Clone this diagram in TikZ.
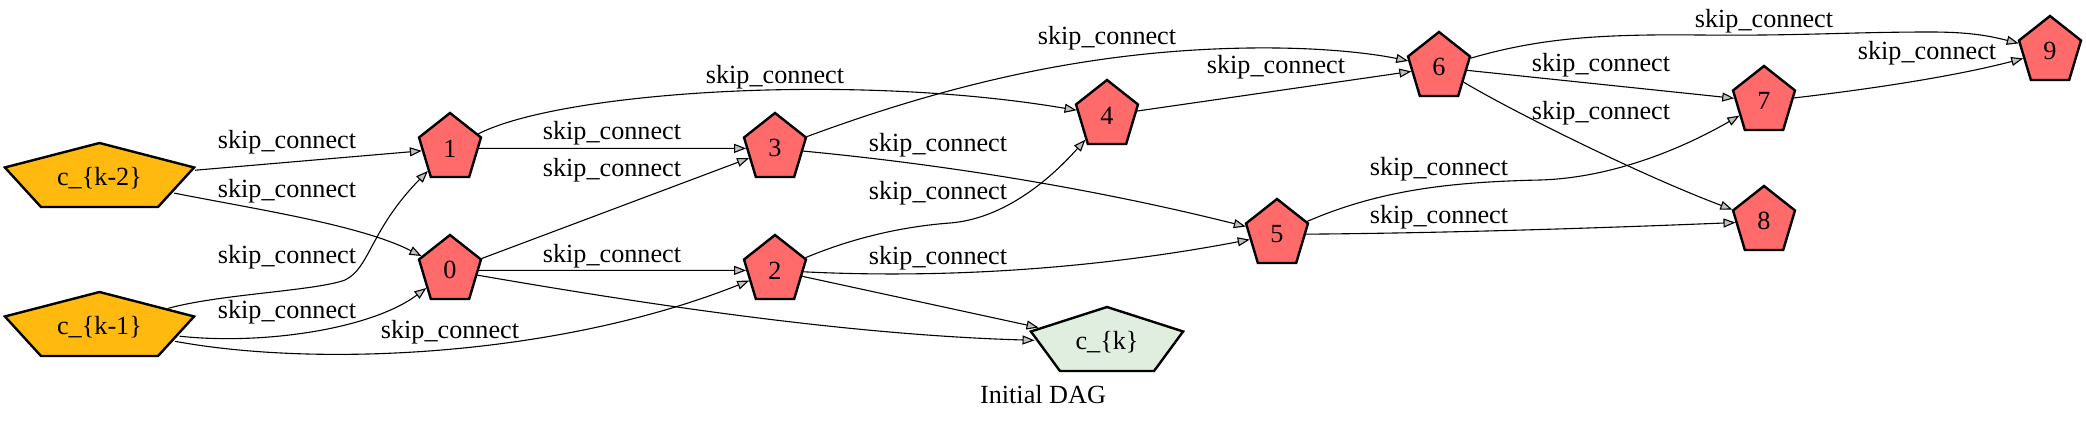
\documentclass[tikz,border=0pt]{standalone}
\usepackage{fontspec}
\setmainfont{Liberation Serif}
\usepackage{graphicx}
\usetikzlibrary{shapes.geometric,arrows.meta}
\definecolor{nred}{HTML}{FF6A6A}
\definecolor{ngold}{HTML}{FFB90F}
\definecolor{ngreen}{HTML}{E0EEE0}
\definecolor{agray}{HTML}{C0C0C0}
% name, x, y, xscale, inverse xscale, fill, text
\newcommand\pentnode[7]{%
  \begin{scope}[shift={(#2,#3)}]
    \node[pent,xscale=#4,fill=#6] (#1) at (0,0) {\scalebox{#5}[1]{#7}};
  \end{scope}}
\begin{document}
\begin{tikzpicture}[x=0.5pt,y=-0.5pt,
  font=\fontsize{13.1}{15}\selectfont,
  pent/.style={regular polygon, regular polygon sides=5, minimum size=35.4pt,
    inner sep=0pt, draw=black, line width=1.2pt, transform shape},
  conn/.style={line width=0.55pt, -{Triangle[length=6pt,width=4.5pt,fill=agray]}},
  lbl/.style={anchor=base, inner sep=0pt}]
\useasboundingbox (0,0) rectangle (2086,423);

% nodes
\pentnode{ck2}{99.5}{178.4}{2.81}{0.356}{ngold}{c\_\{k-2\}}
\pentnode{ck1}{99.5}{327.4}{2.81}{0.356}{ngold}{c\_\{k-1\}}
\pentnode{n1}{450}{148.4}{0.92}{1.087}{nred}{1}
\pentnode{n0}{450}{270.4}{0.92}{1.087}{nred}{0}
\pentnode{n3}{775}{148.4}{0.92}{1.087}{nred}{3}
\pentnode{n2}{775}{270.4}{0.92}{1.087}{nred}{2}
\pentnode{n4}{1107}{115.4}{0.92}{1.087}{nred}{4}
\pentnode{n5}{1277}{234.4}{0.92}{1.087}{nred}{5}
\pentnode{n6}{1439}{67.4}{0.92}{1.087}{nred}{6}
\pentnode{n7}{1764}{101.4}{0.92}{1.087}{nred}{7}
\pentnode{n8}{1764}{221.4}{0.92}{1.087}{nred}{8}
\pentnode{n9}{2050}{51.4}{0.92}{1.087}{nred}{9}
\pentnode{ck}{1107}{342.4}{2.26}{0.4425}{ngreen}{c\_\{k\}}

% edges
\draw[conn] (ck2) -- (n1);
\draw[conn] (ck2) .. controls (260,210) and (360,225) .. (n0);
\draw[conn] (ck1) .. controls (220,294) and (315,291) .. (345,280)
                  .. controls (370,268) and (370,230) .. (n1);
\draw[conn] (ck1) .. controls (260,345) and (370,330) .. (n0);
\draw[conn] (ck1) .. controls (320,368) and (560,356) .. (n2);
\draw[conn] (n1) -- (n3);
\draw[conn] (n0) -- (n3);
\draw[conn] (n0) -- (n2);
\draw[conn] (n1) .. controls (560,92) and (850,72) .. (n4);
\draw[conn] (n0) .. controls (650,305) and (850,335) .. (ck);
\draw[conn] (n3) .. controls (960,80) and (1100,50) .. (1250,48)
                 .. controls (1330,47) and (1380,55) .. (n6);
\draw[conn] (n3) .. controls (950,165) and (1100,190) .. (n5);
\draw[conn] (n2) .. controls (860,235) and (910,226) .. (950,223)
                 .. controls (1000,219) and (1045,185) .. (n4);
\draw[conn] (n2) .. controls (950,279) and (1100,268) .. (n5);
\draw[conn] (n2) -- (ck);
\draw[conn] (n4) -- (n6);
\draw[conn] (n5) .. controls (1380,190) and (1450,182) .. (1540,180)
                 .. controls (1610,178) and (1680,150) .. (n7);
\draw[conn] (n5) .. controls (1450,233) and (1600,228) .. (n8);
\draw[conn] (n6) .. controls (1540,38) and (1600,34) .. (1700,35)
                 .. controls (1800,36) and (1850,32) .. (1930,32)
                 .. controls (1970,32) and (1990,36) .. (n9);
\draw[conn] (n6) -- (n7);
\draw[conn] (n6) .. controls (1510,110) and (1640,175) .. (n8);
\draw[conn] (n7) .. controls (1880,88) and (1960,75) .. (n9);

% edge labels
\node[lbl] (la) at (287,148) {skip\_connect};
\node[lbl] (lb) at (287,197) {skip\_connect};
\node[lbl] (lc) at (287,263) {skip\_connect};
\node[lbl] (ld) at (287,318) {skip\_connect};
\node[lbl] (le) at (450,338) {skip\_connect};
\node[lbl] (lf) at (612,139) {skip\_connect};
\node[lbl] (lg) at (612,176) {skip\_connect};
\node[lbl] (lh) at (612,262) {skip\_connect};
\node[lbl] (li) at (775,83) {skip\_connect};
\node[lbl] (lj) at (1107,44) {skip\_connect};
\node[lbl] (lk) at (938,151) {skip\_connect};
\node[lbl] (ll) at (938,199) {skip\_connect};
\node[lbl] (lm) at (938,264) {skip\_connect};
\node[lbl] (ln) at (1276,73) {skip\_connect};
\node[lbl] (lo) at (1601,71) {skip\_connect};
\node[lbl] (lp) at (1601,119) {skip\_connect};
\node[lbl] (lq) at (1439,175) {skip\_connect};
\node[lbl] (lr) at (1439,223) {skip\_connect};
\node[lbl] (ls) at (1764,27) {skip\_connect};
\node[lbl] (lt) at (1927,59) {skip\_connect};

% caption
\node[lbl] (cap) at (1043,403) {Initial DAG};
\end{tikzpicture}
\end{document}
